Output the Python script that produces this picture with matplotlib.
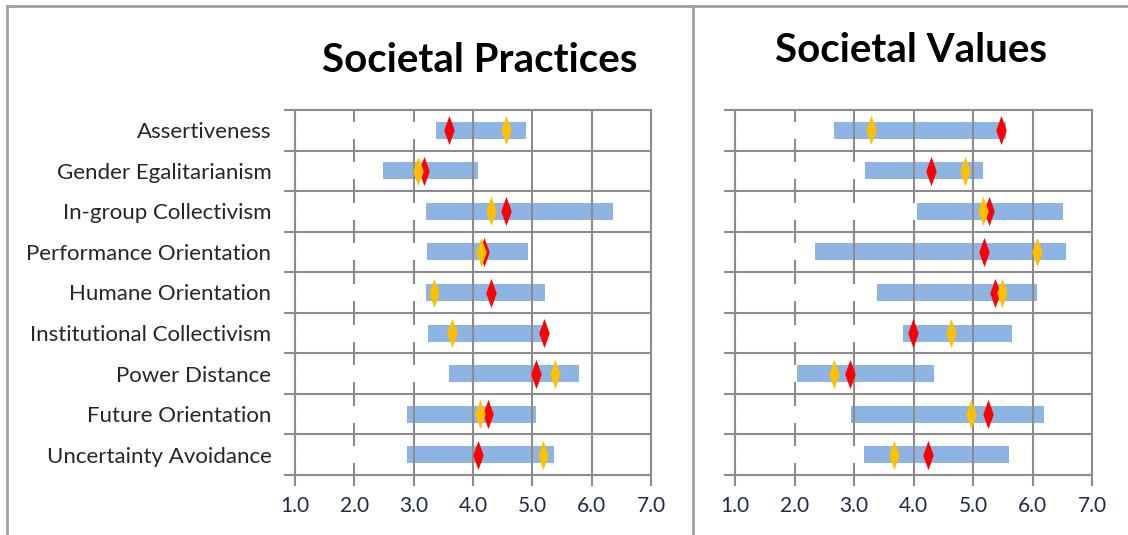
import numpy as np
import matplotlib
matplotlib.use("Agg")
from matplotlib import pyplot as plt
from matplotlib.path import Path
from matplotlib.lines import Line2D

categories = ["Assertiveness", "Gender Egalitarianism", "In-group Collectivism",
              "Performance Orientation", "Humane Orientation", "Institutional Collectivism",
              "Power Distance", "Future Orientation", "Uncertainty Avoidance"]

# range bars (min / max) and two markers per dimension
practices_low = [3.38, 2.49, 3.20, 3.22, 3.20, 3.24, 3.59, 2.89, 2.89]
practices_high = [4.89, 4.08, 6.36, 4.93, 5.22, 5.19, 5.79, 5.07, 5.37]
practices_red = [3.59, 3.18, 4.55, 4.19, 4.31, 5.19, 5.07, 4.25, 4.08]
practices_yellow = [4.55, 3.07, 4.31, 4.13, 3.35, 3.65, 5.39, 4.11, 5.18]

values_low = [2.67, 3.18, 4.06, 2.35, 3.39, 3.83, 2.05, 2.95, 3.16]
values_high = [5.55, 5.17, 6.52, 6.56, 6.07, 5.66, 4.34, 6.20, 5.61]
values_red = [5.47, 4.29, 5.27, 5.18, 5.37, 3.99, 2.93, 5.25, 4.25]
values_yellow = [3.29, 4.86, 5.17, 6.08, 5.49, 4.63, 2.66, 4.97, 3.67]

ticks = [1.0, 2.0, 3.0, 4.0, 5.0, 6.0, 7.0]

plt.rcParams["font.family"] = ["Lato", "DejaVu Sans"]

grid_col = "#8c8c8c"
bar_col = "#8eb4e3"

# tall thin diamond
diamond = Path([(0, 1), (0.36, 0), (0, -1), (-0.36, 0), (0, 1)],
               [Path.MOVETO, Path.LINETO, Path.LINETO, Path.LINETO, Path.CLOSEPOLY])

fig = plt.figure(figsize=(11.28, 5.35), dpi=100)
fig.patch.set_facecolor("white")

def panel(rect, low, high, red, yellow, show_labels):
    ax = fig.add_axes(rect)
    n = len(categories)
    ypos = np.arange(n) + 0.5
    low = np.array(low)
    high = np.array(high)
    # visible range bar under the gridlines
    ax.barh(ypos, high - low, left=low, height=0.42, color=bar_col, zorder=0.5)
    # gridlines drawn by hand so the white segments can sit above them
    for t in ticks:
        ax.axvline(t, color=grid_col, linewidth=1.5, zorder=1)
    for b in range(n + 1):
        ax.axhline(b, color=grid_col, linewidth=1.5, zorder=1)
    # invisible (white) leading segment hides the gridlines
    ax.barh(ypos, low - 1.0, left=1.0, height=0.42, color="white", zorder=1.5)
    ax.plot(red, ypos, linestyle="none", marker=diamond, markersize=21,
            color="#ff0000", markeredgewidth=0, zorder=3)
    ax.plot(yellow, ypos, linestyle="none", marker=diamond, markersize=21,
            color="#ffc000", markeredgewidth=0, zorder=3)

    ax.set_xlim(1, 7)
    ax.set_ylim(n, 0)
    ax.set_xticks(ticks)
    ax.set_xticklabels(["%.1f" % t for t in ticks])
    ax.set_yticks(np.arange(n + 1))
    ax.set_yticks(ypos, minor=True)
    ax.set_yticklabels([])
    if show_labels:
        ax.set_yticklabels(categories, minor=True)
    ax.tick_params(axis="y", which="minor", length=0, pad=17,
                   labelsize=16, labelcolor="#262626")
    ax.tick_params(axis="y", which="major", length=8, width=1.5, color=grid_col)
    ax.tick_params(axis="x", length=8, width=1.5, color=grid_col, pad=7,
                   labelsize=15, labelcolor="#1f2a44")
    for s in ax.spines.values():
        s.set_color(grid_col)
        s.set_linewidth(1.5)
        s.set_zorder(2.5)
    return ax

W, H = 1128.0, 535.0
panel([295 / W, 1 - 475 / H, 356 / W, 365 / H],
      practices_low, practices_high, practices_red, practices_yellow, True)
panel([735 / W, 1 - 475 / H, 357 / W, 365 / H],
      values_low, values_high, values_red, values_yellow, False)

fig.text(480 / W, 1 - 60 / H, "Societal Practices", ha="center", va="center",
         fontsize=29, fontweight="bold", color="black")
fig.text(911 / W, 1 - 50 / H, "Societal Values", ha="center", va="center",
         fontsize=29, fontweight="bold", color="black")

# outer frame and divider
border = "#a0a0a0"
fig.add_artist(Line2D([7 / W, 1], [1 - 6 / H, 1 - 6 / H], color=border, lw=2))
fig.add_artist(Line2D([7 / W, 7 / W], [0, 1 - 6 / H], color=border, lw=2))
fig.add_artist(Line2D([693 / W, 693 / W], [0, 1 - 6 / H], color=border, lw=2))

fig.savefig("out.png", dpi=100)
